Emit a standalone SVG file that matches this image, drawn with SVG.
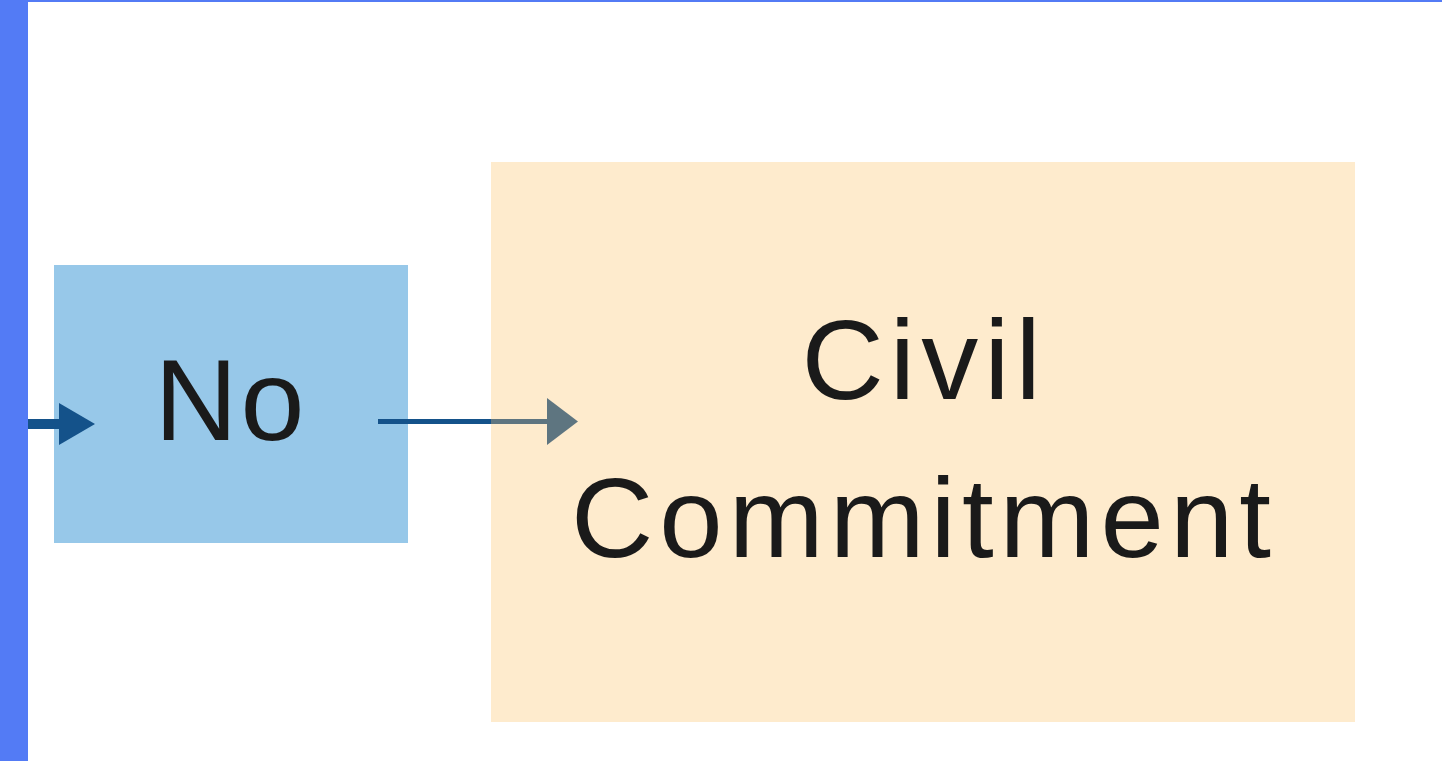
<svg xmlns="http://www.w3.org/2000/svg" width="1442" height="761" viewBox="0 0 1442 761">
  <style>
    .frame { fill: #537BF5; }
    .label { font-family: "Liberation Sans", Arial, sans-serif; fill: #1A1A1A; text-anchor: middle; }
    .wire { stroke: #14528A; fill: none; }
    .wire-muted { stroke: #5E7580; fill: none; }
  </style>
  <rect width="1442" height="761" fill="#FFFFFF"/>
  <!-- page frame edges -->
  <rect class="frame" x="0" y="0" width="1442" height="2"/>
  <rect class="frame" x="0" y="0" width="28" height="761"/>

  <g id="node-no">
    <rect x="54" y="265" width="354" height="278" fill="#97C8E9"/>
    <text class="label" x="231" y="440" font-size="115" letter-spacing="3">No</text>
  </g>

  <g id="node-civil-commitment">
    <rect x="491" y="162" width="864" height="560" fill="#FEEBCD"/>
    <text class="label" font-size="114" letter-spacing="6">
      <tspan x="943" y="399">Civil</tspan>
      <tspan x="924" y="557">Commitment</tspan>
    </text>
  </g>

  <g id="connectors">
    <!-- incoming edge to "No" -->
    <line class="wire" x1="28" y1="424" x2="62" y2="424" stroke-width="10"/>
    <polygon points="59,403 95,424 59,445" fill="#14528A"/>
    <!-- "No" to "Civil Commitment" -->
    <line class="wire" x1="378" y1="421.5" x2="491" y2="421.5" stroke-width="5"/>
    <line class="wire-muted" x1="491" y1="421.5" x2="550" y2="421.5" stroke-width="5"/>
    <polygon points="547,398 578,421.5 547,445" fill="#5E7580"/>
  </g>
</svg>
